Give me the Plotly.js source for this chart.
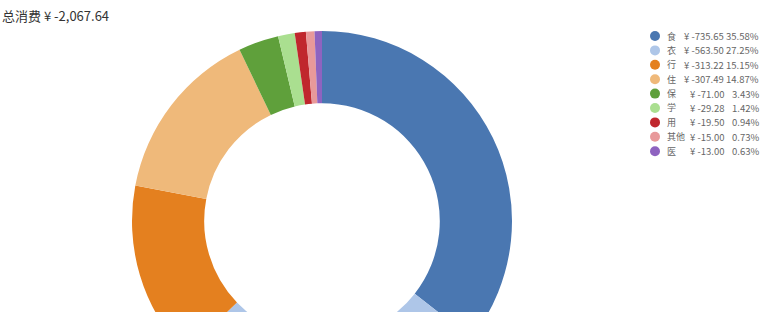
<!DOCTYPE html>
<html>
<head>
<meta charset="utf-8">
<script src="https://cdn.plot.ly/plotly-3.0.1.min.js"></script>
<style>
html,body{margin:0;padding:0;overflow:hidden;background:#fff;}
#chart{width:765px;height:420px;}
</style>
</head>
<body>
<div id="chart"></div>
<script>
var categories = ["食","衣","行","住","保","学","用","其他","医"];
var amounts = [-735.65, -563.50, -313.22, -307.49, -71.00, -29.28, -19.50, -15.00, -13.00];
var percents = ["35.58%","27.25%","15.15%","14.87%","3.43%","1.42%","0.94%","0.73%","0.63%"];
var colors = ["#4a77b1","#aec6e8","#e4801f","#efb97a","#5fa03b","#aadf90","#c0272d","#e8999a","#8e63c0"];
var totalLabel = "-2,067.64";

var W = 765, H = 420;
function py(p){ return 1 - p / H; }
function px(p){ return p / W; }

var cx = 322, cy = 221, R = 190;

var trace = {
  type: "pie",
  labels: categories,
  values: amounts.map(function(v){ return Math.abs(v); }),
  marker: {colors: colors, line: {width: 0}},
  hole: 0.62,
  sort: false,
  direction: "clockwise",
  rotation: 0,
  textinfo: "none",
  hoverinfo: "none",
  showlegend: false,
  domain: {x: [px(cx - R), px(cx + R)], y: [py(cy + R), py(cy - R)]}
};

var annotations = [{
  xref: "paper", yref: "paper", x: 0, y: py(15.5), xanchor: "left", yanchor: "middle",
  text: "总消费 ¥ " + totalLabel, showarrow: false,
  font: {family: "Noto Sans CJK SC, sans-serif", size: 13, color: "#333"}
}];
var shapes = [];
var rowY0 = 36, rowStep = 14.4;
var legFont = "Noto Sans CJK SC, sans-serif";
for (var i = 0; i < categories.length; i++) {
  var y = rowY0 + i * rowStep;
  shapes.push({type: "circle", xref: "paper", yref: "paper",
    x0: px(650), x1: px(660), y0: py(y + 5), y1: py(y - 5),
    fillcolor: colors[i], line: {width: 0}});
  annotations.push({xref: "paper", yref: "paper", x: px(665), y: py(y), xanchor: "left", yanchor: "middle",
    text: categories[i], showarrow: false,
    font: {family: legFont, size: 9, color: "#666"}});
  annotations.push({xref: "paper", yref: "paper", x: px(726), y: py(y), xanchor: "right", yanchor: "middle",
    text: "¥ " + amounts[i].toFixed(2), showarrow: false,
    font: {family: legFont, size: 9.5, color: "#666"}});
  annotations.push({xref: "paper", yref: "paper", x: px(761), y: py(y), xanchor: "right", yanchor: "middle",
    text: percents[i], showarrow: false,
    font: {family: legFont, size: 9.5, color: "#666"}});
}

var layout = {
  width: W, height: H,
  margin: {l: 0, r: 0, t: 0, b: 0},
  paper_bgcolor: "#fff",
  showlegend: false,
  annotations: annotations,
  shapes: shapes
};

Plotly.newPlot("chart", [trace], layout, {displayModeBar: false, staticPlot: true});
</script>
</body>
</html>
